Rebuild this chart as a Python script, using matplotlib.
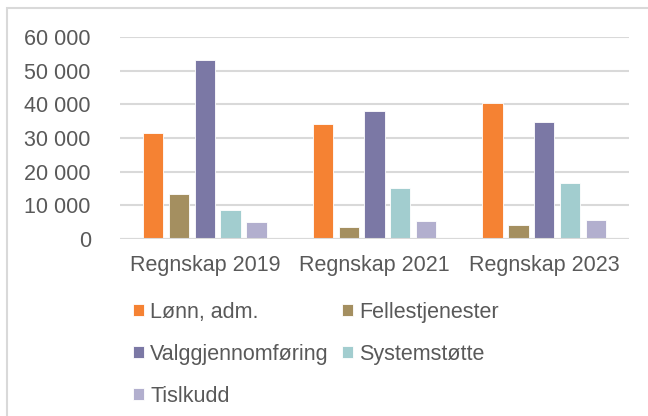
import matplotlib.pyplot as plt
import matplotlib.patches as patches
import numpy as np

categories = ["Regnskap 2019", "Regnskap 2021", "Regnskap 2023"]
series_names = ["Lønn, adm.", "Fellestjenester", "Valggjennomføring", "Systemstøtte", "Tislkudd"]
lonn = [31600, 34200, 40400]
fellestjenester = [13300, 3500, 4200]
valggjennomforing = [53300, 37900, 34900]
systemstotte = [8600, 15000, 16500]
tilskudd = [5000, 5200, 5600]
yticks = [0, 10000, 20000, 30000, 40000, 50000, 60000]

colors = ["#F58233", "#A48F60", "#7B78A5", "#A2CDCF", "#B2AFCE"]
text_color = "#595959"
grid_color = "#D9D9D9"

plt.rcParams['font.family'] = ['Liberation Sans', 'DejaVu Sans']

fig = plt.figure(figsize=(6.48, 4.16), dpi=100)
ax = fig.add_axes([120 / 648, 1 - 238.7 / 416, 509 / 648, 201.4 / 416])

# ramme rundt figuren
frame = patches.Rectangle((7 / 648, -0.1), 1.2, 1.1 - 8 / 416, transform=fig.transFigure,
                          fill=False, edgecolor=grid_color, linewidth=1.5)
fig.patches.append(frame)

x = np.arange(len(categories))
step = 0.152
width = 0.12
all_series = [lonn, fellestjenester, valggjennomforing, systemstotte, tilskudd]
handles = []
for i, vals in enumerate(all_series):
    b = ax.bar(x + (i - 2) * step, vals, width, color=colors[i], edgecolor="white",
               linewidth=0.6, label=series_names[i], zorder=3)
    handles.append(b)

ax.set_xlim(-0.5, 2.5)
ax.set_ylim(0, 60000)
ax.set_yticks(yticks)
ax.set_yticklabels([f"{v:,}".replace(",", " ") for v in yticks])
ax.set_xticks(x)
ax.set_xticklabels(categories)
ax.tick_params(axis="both", length=0, labelsize=15.5, labelcolor=text_color)
ax.tick_params(axis="y", pad=21)
ax.tick_params(axis="x", pad=12)
ax.grid(axis="y", color=grid_color, linewidth=1.5, zorder=0)
for s in ax.spines.values():
    s.set_visible(False)
ax.axhline(0, color=grid_color, linewidth=1.5, zorder=4)

order = [0, 2, 4, 1, 3]
leg = fig.legend([handles[i] for i in order], [series_names[i] for i in order],
                 loc="upper left", bbox_to_anchor=(133 / 648, 1 - 302 / 416), ncol=2,
                 frameon=False, fontsize=15.5, handlelength=0.5, handleheight=0.5,
                 handletextpad=0.3, columnspacing=0.6, labelspacing=0.97, borderpad=0,
                 borderaxespad=0)
for t in leg.get_texts():
    t.set_color(text_color)

fig.savefig("out.png", dpi=100)
